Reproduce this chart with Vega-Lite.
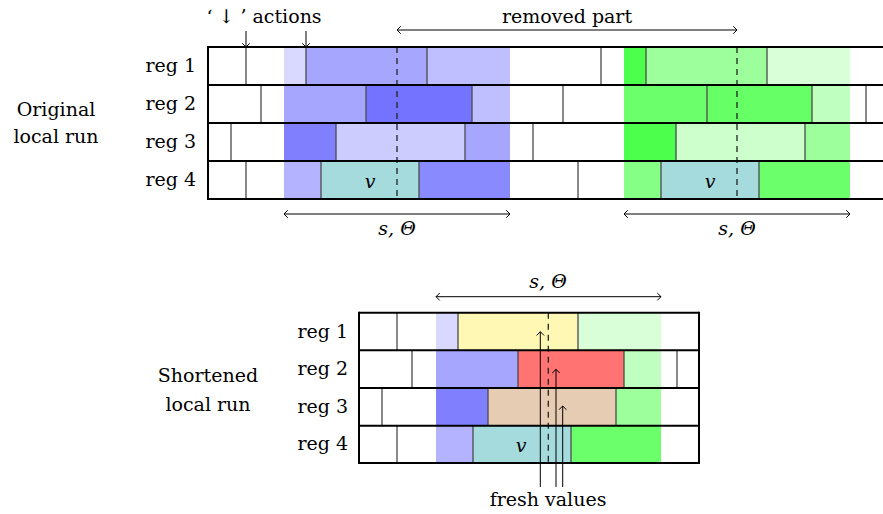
{
  "$schema": "https://vega.github.io/schema/vega-lite/v6.json",
  "width": 883,
  "height": 514,
  "padding": 0,
  "autosize": {"type": "none"},
  "config": {"view": {"stroke": null}},
  "datasets": {
    "cells": [
      {"x": 284, "x2": 306, "y": 47, "y2": 85, "shade": "b15"},
      {"x": 306, "x2": 427, "y": 47, "y2": 85, "shade": "b35"},
      {"x": 427, "x2": 510, "y": 47, "y2": 85, "shade": "b25"},
      {"x": 284, "x2": 366, "y": 85, "y2": 123, "shade": "b35"},
      {"x": 366, "x2": 472, "y": 85, "y2": 123, "shade": "b55"},
      {"x": 472, "x2": 510, "y": 85, "y2": 123, "shade": "b25"},
      {"x": 284, "x2": 336, "y": 123, "y2": 161, "shade": "b50"},
      {"x": 336, "x2": 465, "y": 123, "y2": 161, "shade": "b20"},
      {"x": 465, "x2": 510, "y": 123, "y2": 161, "shade": "b35"},
      {"x": 284, "x2": 321, "y": 161, "y2": 199, "shade": "b30"},
      {"x": 321, "x2": 419, "y": 161, "y2": 199, "shade": "teal"},
      {"x": 419, "x2": 510, "y": 161, "y2": 199, "shade": "b45"},
      {"x": 624, "x2": 646, "y": 47, "y2": 85, "shade": "g70"},
      {"x": 646, "x2": 767, "y": 47, "y2": 85, "shade": "g40"},
      {"x": 767, "x2": 850, "y": 47, "y2": 85, "shade": "g15"},
      {"x": 624, "x2": 707, "y": 85, "y2": 123, "shade": "g58"},
      {"x": 707, "x2": 812, "y": 85, "y2": 123, "shade": "g60"},
      {"x": 812, "x2": 850, "y": 85, "y2": 123, "shade": "g25"},
      {"x": 624, "x2": 676, "y": 123, "y2": 161, "shade": "g70"},
      {"x": 676, "x2": 805, "y": 123, "y2": 161, "shade": "g20"},
      {"x": 805, "x2": 850, "y": 123, "y2": 161, "shade": "g40"},
      {"x": 624, "x2": 661, "y": 161, "y2": 199, "shade": "g50"},
      {"x": 661, "x2": 759, "y": 161, "y2": 199, "shade": "teal"},
      {"x": 759, "x2": 850, "y": 161, "y2": 199, "shade": "g58"},
      {"x": 436, "x2": 458, "y": 312.7, "y2": 350.3, "shade": "b15"},
      {"x": 458, "x2": 578, "y": 312.7, "y2": 350.3, "shade": "yellow"},
      {"x": 578, "x2": 661, "y": 312.7, "y2": 350.3, "shade": "g15"},
      {"x": 436, "x2": 518, "y": 350.3, "y2": 388, "shade": "b35"},
      {"x": 518, "x2": 624, "y": 350.3, "y2": 388, "shade": "red"},
      {"x": 624, "x2": 661, "y": 350.3, "y2": 388, "shade": "g25"},
      {"x": 436, "x2": 488, "y": 388, "y2": 425.7, "shade": "b50"},
      {"x": 488, "x2": 616, "y": 388, "y2": 425.7, "shade": "tan"},
      {"x": 616, "x2": 661, "y": 388, "y2": 425.7, "shade": "g40"},
      {"x": 436, "x2": 473, "y": 425.7, "y2": 463, "shade": "b30"},
      {"x": 473, "x2": 571, "y": 425.7, "y2": 463, "shade": "teal"},
      {"x": 571, "x2": 661, "y": 425.7, "y2": 463, "shade": "g58"}
    ],
    "ticks": [
      {"x": 246, "y": 47, "y2": 85}, {"x": 306, "y": 47, "y2": 85}, {"x": 427, "y": 47, "y2": 85},
      {"x": 601, "y": 47, "y2": 85}, {"x": 646, "y": 47, "y2": 85}, {"x": 767, "y": 47, "y2": 85},
      {"x": 261, "y": 85, "y2": 123}, {"x": 366, "y": 85, "y2": 123}, {"x": 472, "y": 85, "y2": 123},
      {"x": 563, "y": 85, "y2": 123}, {"x": 707, "y": 85, "y2": 123}, {"x": 812, "y": 85, "y2": 123},
      {"x": 866, "y": 85, "y2": 123},
      {"x": 231, "y": 123, "y2": 161}, {"x": 336, "y": 123, "y2": 161}, {"x": 465, "y": 123, "y2": 161},
      {"x": 533, "y": 123, "y2": 161}, {"x": 676, "y": 123, "y2": 161}, {"x": 805, "y": 123, "y2": 161},
      {"x": 246, "y": 161, "y2": 199}, {"x": 321, "y": 161, "y2": 199}, {"x": 419, "y": 161, "y2": 199},
      {"x": 578, "y": 161, "y2": 199}, {"x": 661, "y": 161, "y2": 199}, {"x": 759, "y": 161, "y2": 199},
      {"x": 397, "y": 312.7, "y2": 350.3}, {"x": 458, "y": 312.7, "y2": 350.3}, {"x": 578, "y": 312.7, "y2": 350.3},
      {"x": 412, "y": 350.3, "y2": 388}, {"x": 518, "y": 350.3, "y2": 388}, {"x": 624, "y": 350.3, "y2": 388},
      {"x": 677, "y": 350.3, "y2": 388},
      {"x": 382, "y": 388, "y2": 425.7}, {"x": 488, "y": 388, "y2": 425.7}, {"x": 616, "y": 388, "y2": 425.7},
      {"x": 397, "y": 425.7, "y2": 463}, {"x": 473, "y": 425.7, "y2": 463}, {"x": 571, "y": 425.7, "y2": 463}
    ],
    "frame": [
      {"x": 208, "x2": 883, "y": 47, "y2": 47},
      {"x": 208, "x2": 883, "y": 85, "y2": 85},
      {"x": 208, "x2": 883, "y": 123, "y2": 123},
      {"x": 208, "x2": 883, "y": 161, "y2": 161},
      {"x": 208, "x2": 883, "y": 199, "y2": 199},
      {"x": 208, "x2": 208, "y": 46, "y2": 200},
      {"x": 359, "x2": 699, "y": 312.7, "y2": 312.7},
      {"x": 359, "x2": 699, "y": 350.3, "y2": 350.3},
      {"x": 359, "x2": 699, "y": 388, "y2": 388},
      {"x": 359, "x2": 699, "y": 425.7, "y2": 425.7},
      {"x": 359, "x2": 699, "y": 463, "y2": 463},
      {"x": 359, "x2": 359, "y": 311.7, "y2": 464},
      {"x": 699, "x2": 699, "y": 311.7, "y2": 464}
    ],
    "dashes": [
      {"x": 397, "y": 47, "y2": 199},
      {"x": 737, "y": 47, "y2": 199},
      {"x": 548.3, "y": 312.7, "y2": 463}
    ],
    "shafts": [
      {"x": 246, "x2": 246, "y": 31, "y2": 47},
      {"x": 306, "x2": 306, "y": 31, "y2": 47},
      {"x": 397, "x2": 737, "y": 30, "y2": 30},
      {"x": 284, "x2": 510, "y": 214, "y2": 214},
      {"x": 624, "x2": 850, "y": 214, "y2": 214},
      {"x": 436, "x2": 661, "y": 296.7, "y2": 296.7},
      {"x": 540.3, "x2": 540.3, "y": 331.7, "y2": 487},
      {"x": 556, "x2": 556, "y": 369.3, "y2": 487},
      {"x": 562.7, "x2": 562.7, "y": 406, "y2": 487}
    ],
    "heads": [
      {"x": 246, "y": 47, "angle": 90},
      {"x": 306, "y": 47, "angle": 90},
      {"x": 397, "y": 30, "angle": 180},
      {"x": 737, "y": 30, "angle": 0},
      {"x": 284, "y": 214, "angle": 180},
      {"x": 510, "y": 214, "angle": 0},
      {"x": 624, "y": 214, "angle": 180},
      {"x": 850, "y": 214, "angle": 0},
      {"x": 436, "y": 296.7, "angle": 180},
      {"x": 661, "y": 296.7, "angle": 0},
      {"x": 540.3, "y": 331.7, "angle": 270},
      {"x": 556, "y": 369.3, "angle": 270},
      {"x": 562.7, "y": 406, "angle": 270}
    ],
    "labels": [
      {"x": 196, "y": 66, "text": "reg 1", "role": "reg"},
      {"x": 196, "y": 104, "text": "reg 2", "role": "reg"},
      {"x": 196, "y": 142, "text": "reg 3", "role": "reg"},
      {"x": 196, "y": 180, "text": "reg 4", "role": "reg"},
      {"x": 348, "y": 331.5, "text": "reg 1", "role": "reg"},
      {"x": 348, "y": 369, "text": "reg 2", "role": "reg"},
      {"x": 348, "y": 407, "text": "reg 3", "role": "reg"},
      {"x": 348, "y": 444, "text": "reg 4", "role": "reg"},
      {"x": 56, "y": 110, "text": "Original", "role": "caption"},
      {"x": 56, "y": 137, "text": "local run", "role": "caption"},
      {"x": 208, "y": 376, "text": "Shortened", "role": "caption"},
      {"x": 208, "y": 405, "text": "local run", "role": "caption"},
      {"x": 264, "y": 17, "text": "‘ ↓ ’ actions", "role": "caption"},
      {"x": 567, "y": 17, "text": "removed part", "role": "caption"},
      {"x": 548, "y": 500, "text": "fresh values", "role": "caption"},
      {"x": 397, "y": 229, "text": "s, Θ", "role": "math"},
      {"x": 737, "y": 229, "text": "s, Θ", "role": "math"},
      {"x": 548, "y": 282, "text": "s, Θ", "role": "math"},
      {"x": 370, "y": 182, "text": "v", "role": "math"},
      {"x": 710, "y": 182, "text": "v", "role": "math"},
      {"x": 521, "y": 446, "text": "v", "role": "math"}
    ]
  },
  "layer": [
    {
      "data": {"name": "cells"},
      "mark": {"type": "rect", "strokeWidth": 0},
      "encoding": {
        "x": {"field": "x", "type": "quantitative", "scale": {"domain": [0, 883], "nice": false, "zero": false}, "axis": null},
        "x2": {"field": "x2"},
        "y": {"field": "y", "type": "quantitative", "scale": {"domain": [0, 514], "nice": false, "zero": false, "reverse": true}, "axis": null},
        "y2": {"field": "y2"},
        "color": {
          "field": "shade", "type": "nominal", "legend": null,
          "scale": {
            "domain": ["b15", "b20", "b25", "b30", "b35", "b45", "b50", "b55", "g15", "g20", "g25", "g40", "g50", "g58", "g60", "g70", "teal", "yellow", "red", "tan"],
            "range": ["#D9D9FF", "#CCCCFF", "#BFBFFF", "#B3B3FF", "#A6A6FF", "#8A8AFF", "#8080FF", "#7373FF", "#D9FFD9", "#CCFFCC", "#BFFFBF", "#9CFF9C", "#85FF85", "#6BFF6B", "#66FF66", "#4DFF4D", "#A6DBDE", "#FFF8B5", "#FF7373", "#E6CCB3"]
          }
        }
      }
    },
    {
      "data": {"name": "ticks"},
      "mark": {"type": "rule", "color": "#4a4a4a", "strokeWidth": 1.3},
      "encoding": {
        "x": {"field": "x", "type": "quantitative", "scale": {"domain": [0, 883], "nice": false, "zero": false}, "axis": null},
        "y": {"field": "y", "type": "quantitative", "scale": {"domain": [0, 514], "nice": false, "zero": false, "reverse": true}, "axis": null},
        "y2": {"field": "y2"}
      }
    },
    {
      "data": {"name": "dashes"},
      "mark": {"type": "rule", "color": "#222222", "strokeWidth": 1.3, "strokeDash": [6, 5]},
      "encoding": {
        "x": {"field": "x", "type": "quantitative", "scale": {"domain": [0, 883], "nice": false, "zero": false}, "axis": null},
        "y": {"field": "y", "type": "quantitative", "scale": {"domain": [0, 514], "nice": false, "zero": false, "reverse": true}, "axis": null},
        "y2": {"field": "y2"}
      }
    },
    {
      "data": {"name": "frame"},
      "mark": {"type": "rule", "color": "#000000", "strokeWidth": 2},
      "encoding": {
        "x": {"field": "x", "type": "quantitative", "scale": {"domain": [0, 883], "nice": false, "zero": false}, "axis": null},
        "x2": {"field": "x2"},
        "y": {"field": "y", "type": "quantitative", "scale": {"domain": [0, 514], "nice": false, "zero": false, "reverse": true}, "axis": null},
        "y2": {"field": "y2"}
      }
    },
    {
      "data": {"name": "shafts"},
      "mark": {"type": "rule", "color": "#000000", "strokeWidth": 1},
      "encoding": {
        "x": {"field": "x", "type": "quantitative", "scale": {"domain": [0, 883], "nice": false, "zero": false}, "axis": null},
        "x2": {"field": "x2"},
        "y": {"field": "y", "type": "quantitative", "scale": {"domain": [0, 514], "nice": false, "zero": false, "reverse": true}, "axis": null},
        "y2": {"field": "y2"}
      }
    },
    {
      "data": {"name": "heads"},
      "mark": {"type": "point", "shape": "M -1 -1 L 0 0 L -1 1", "filled": false, "color": "#000000", "strokeWidth": 1, "size": 56, "opacity": 1},
      "encoding": {
        "x": {"field": "x", "type": "quantitative", "scale": {"domain": [0, 883], "nice": false, "zero": false}, "axis": null},
        "y": {"field": "y", "type": "quantitative", "scale": {"domain": [0, 514], "nice": false, "zero": false, "reverse": true}, "axis": null},
        "angle": {"field": "angle", "type": "quantitative", "scale": null}
      }
    },
    {
      "data": {"name": "labels"},
      "transform": [{"filter": "datum.role === 'reg'"}],
      "mark": {"type": "text", "align": "right", "baseline": "middle", "font": "DejaVu Serif", "fontSize": 19, "color": "#000000"},
      "encoding": {
        "x": {"field": "x", "type": "quantitative", "scale": {"domain": [0, 883], "nice": false, "zero": false}, "axis": null},
        "y": {"field": "y", "type": "quantitative", "scale": {"domain": [0, 514], "nice": false, "zero": false, "reverse": true}, "axis": null},
        "text": {"field": "text"}
      }
    },
    {
      "data": {"name": "labels"},
      "transform": [{"filter": "datum.role === 'caption'"}],
      "mark": {"type": "text", "align": "center", "baseline": "middle", "font": "DejaVu Serif", "fontSize": 19, "color": "#000000"},
      "encoding": {
        "x": {"field": "x", "type": "quantitative", "scale": {"domain": [0, 883], "nice": false, "zero": false}, "axis": null},
        "y": {"field": "y", "type": "quantitative", "scale": {"domain": [0, 514], "nice": false, "zero": false, "reverse": true}, "axis": null},
        "text": {"field": "text"}
      }
    },
    {
      "data": {"name": "labels"},
      "transform": [{"filter": "datum.role === 'math'"}],
      "mark": {"type": "text", "align": "center", "baseline": "middle", "font": "DejaVu Serif", "fontStyle": "italic", "fontSize": 19, "color": "#000000"},
      "encoding": {
        "x": {"field": "x", "type": "quantitative", "scale": {"domain": [0, 883], "nice": false, "zero": false}, "axis": null},
        "y": {"field": "y", "type": "quantitative", "scale": {"domain": [0, 514], "nice": false, "zero": false, "reverse": true}, "axis": null},
        "text": {"field": "text"}
      }
    }
  ]
}
